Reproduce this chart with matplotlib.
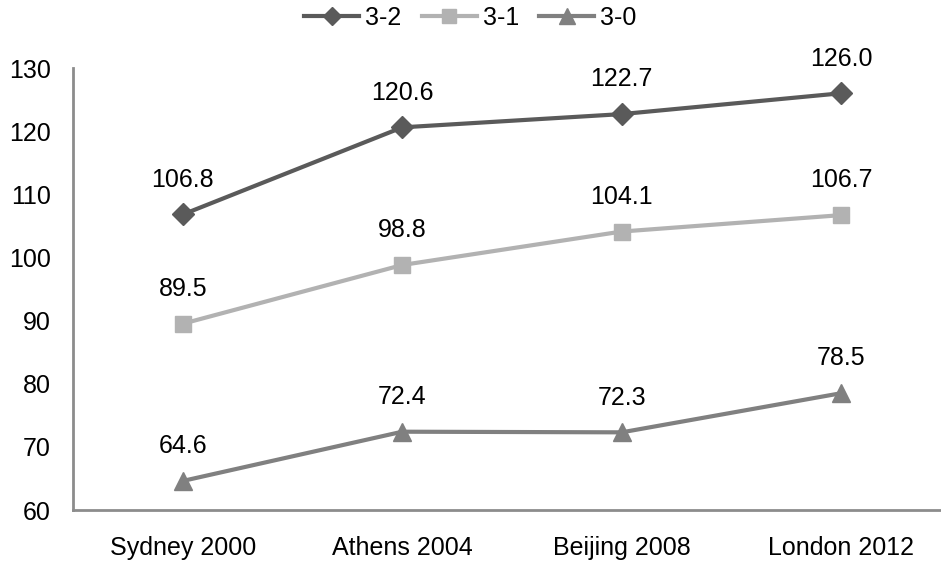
import matplotlib.pyplot as plt

plt.rcParams['font.family'] = ['Liberation Sans', 'DejaVu Sans']

games = ['Sydney 2000', 'Athens 2004', 'Beijing 2008', 'London 2012']
s32 = [106.8, 120.6, 122.7, 126.0]
s31 = [89.5, 98.8, 104.1, 106.7]
s30 = [64.6, 72.4, 72.3, 78.5]

series = [
    ('3-2', s32, '#5a5a5a', 'D', 11),
    ('3-1', s31, '#b2b2b2', 's', 12),
    ('3-0', s30, '#808080', '^', 13),
]

fig = plt.figure(figsize=(9.41, 5.65), dpi=100)
# plot area runs off the right edge in the original
ax = fig.add_axes([73/941, 55/565, 878/941, 442/565])

x = list(range(len(games)))
for name, vals, col, mk, ms in series:
    ax.plot(x, vals, color=col, lw=3, marker=mk, ms=ms, label=name)
    for xi, v in zip(x, vals):
        ax.annotate(f'{v:.1f}', (xi, v), xytext=(0, 25), textcoords='offset points',
                    ha='center', va='center', fontsize=18, color='black')

ax.set_xlim(-0.5, 3.5)
ax.set_ylim(60, 130)
ax.set_yticks(range(60, 131, 10))
ax.set_xticks(x)
ax.set_xticklabels(games)
ax.tick_params(length=0, labelsize=18)
ax.tick_params(axis='y', pad=16)
ax.tick_params(axis='x', pad=19)
for s in ['top', 'right']:
    ax.spines[s].set_visible(False)
for s in ['left', 'bottom']:
    ax.spines[s].set_color('#8c8c8c')
    ax.spines[s].set_linewidth(2)

fig.legend(loc='upper center', bbox_to_anchor=(0.5, 1.03), ncol=3, frameon=False,
           fontsize=18, handlelength=2.2, columnspacing=0.8, handletextpad=0.25,
           markerscale=0.85)

fig.savefig('out.png', dpi=100)
